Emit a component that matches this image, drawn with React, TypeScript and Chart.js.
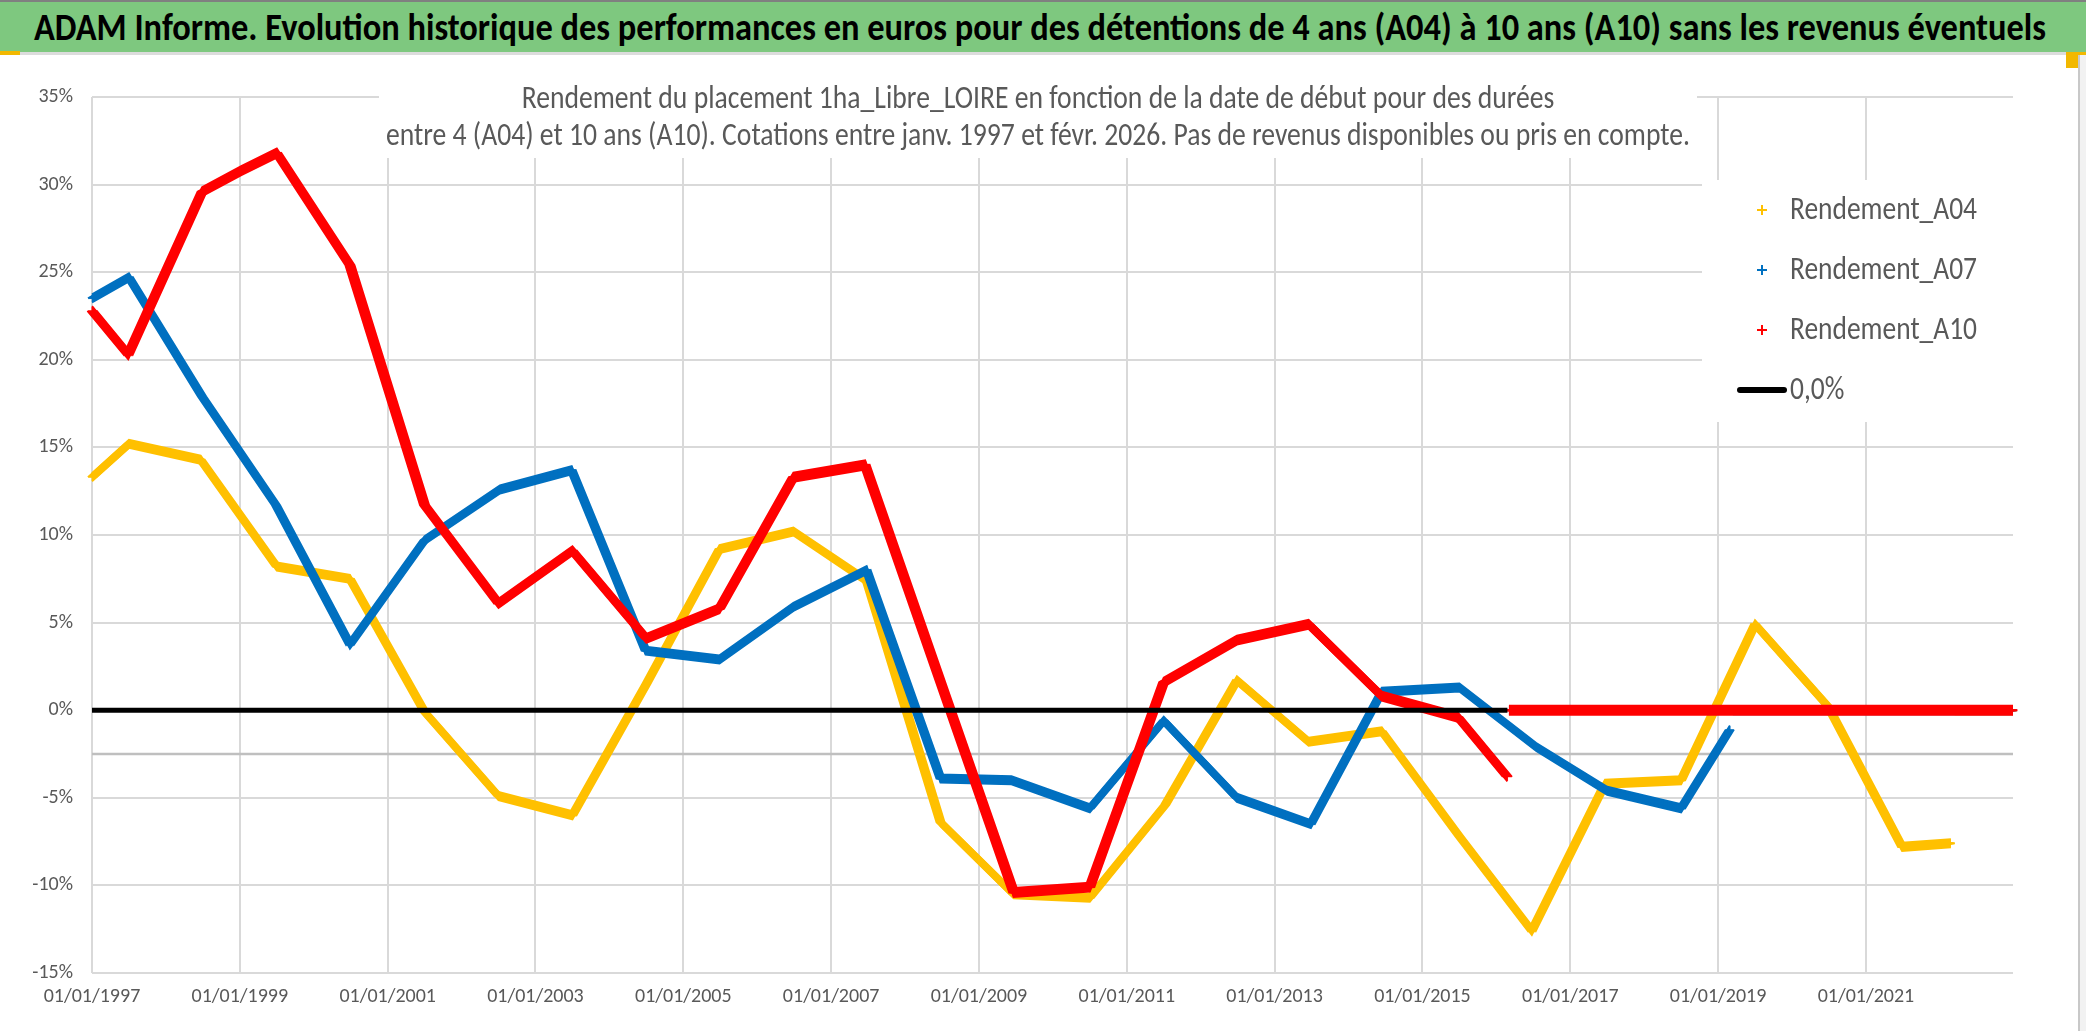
import React, { useEffect, useLayoutEffect, useRef } from 'react';
import { Chart, registerables } from 'chart.js';

Chart.register(...registerables);

const FONT = 'Carlito, "Liberation Sans Narrow", "DejaVu Sans Condensed", "Open Sans", sans-serif';
const TEXT_GRAY = '#595959';

const TITLE =
  'ADAM Informe. Evolution historique des performances en euros pour des détentions de 4 ans (A04) à 10 ans (A10) sans les revenus éventuels';
const SUBTITLE_LINES = [
  'Rendement du placement 1ha_Libre_LOIRE en fonction de la date de début pour des durées',
  'entre 4 (A04) et 10 ans (A10). Cotations entre janv. 1997 et févr. 2026. Pas de revenus disponibles ou pris en compte.',
];

const SERIES_LABELS = ['Rendement_A04', 'Rendement_A07', 'Rendement_A10', '0,0%'];
const SERIES_COLORS = ['#FFC000', '#0070C0', '#FF0000', '#000000'];

// dates as decimal years, values in %
const A04_DATES = [1997.0, 1997.5, 1998.47, 1999.5, 2000.49, 2001.5, 2002.5, 2003.5, 2004.5, 2005.49, 2006.49, 2007.48, 2008.48, 2009.47, 2010.5, 2011.52, 2012.49, 2013.46, 2014.45, 2015.5, 2016.48, 2017.47, 2018.5, 2019.5, 2020.49, 2021.49, 2022.15, 2022.17, 2022.2, 2022.99];
const A04_VALUES = [13.3, 15.2, 14.3, 8.2, 7.5, -0.1, -4.9, -6.0, 1.5, 9.2, 10.2, 7.4, -6.4, -10.5, -10.7, -5.4, 1.7, -1.8, -1.2, -7.2, -12.6, -4.2, -4.0, 4.9, 0.2, -7.8, -7.6, null, 0, 0];

const A07_DATES = [1997.0, 1997.5, 1998.49, 1999.49, 2000.49, 2001.5, 2002.52, 2003.49, 2004.49, 2005.49, 2006.49, 2007.48, 2008.48, 2009.44, 2010.5, 2011.5, 2012.49, 2013.49, 2014.45, 2015.5, 2016.54, 2017.5, 2018.5, 2019.16, 2019.18, 2019.2, 2022.99];
const A07_VALUES = [23.5, 24.7, 17.9, 11.7, 3.75, 9.7, 12.6, 13.7, 3.4, 2.9, 5.9, 8.0, -3.9, -4.0, -5.6, -0.6, -5.0, -6.5, 1.05, 1.3, -2.1, -4.6, -5.6, -1.1, null, 0, 0];

const A10_DATES = [1997.0, 1997.49, 1998.49, 1999.02, 1999.5, 2000.49, 2001.5, 2002.5, 2003.5, 2004.5, 2005.49, 2006.49, 2007.46, 2009.47, 2010.5, 2011.5, 2012.49, 2013.46, 2014.45, 2015.48, 2016.15, 2016.16, 2016.17, 2022.99];
const A10_VALUES = [22.8, 20.3, 29.6, 30.8, 31.8, 25.4, 11.7, 6.1, 9.1, 4.1, 5.8, 13.3, 14.0, -10.4, -10.1, 1.6, 4.0, 4.9, 0.8, -0.4, -3.8, null, 0, 0];

const ZERO_DATES = [1997.0, 2016.15];
const ZERO_VALUES = [0, 0];

const X_TICK_YEARS = [1997, 1999, 2001, 2003, 2005, 2007, 2009, 2011, 2013, 2015, 2017, 2019, 2021];
const X_MIN = 1997;
const X_MAX = 2022.99;
const Y_MIN = -15;
const Y_MAX = 35;
const Y_STEP = 5;
const AXIS_CROSS_VALUE = -2.5;

const toPoints = (dates: number[], values: (number | null)[]) =>
  dates.map((x, i) => ({ x, y: values[i] }));

const TEXT_STRETCH = 1.18;

// font size from target width (natural proportions), then enlarged vertically
const fitSize = (ctx: CanvasRenderingContext2D, text: string, target: number, weight = '') => {
  const base = 30;
  ctx.font = `${weight} ${base}px ${FONT}`;
  const w = ctx.measureText(text).width;
  return (base * target) / w;
};

const drawStretched = (
  ctx: CanvasRenderingContext2D,
  text: string,
  x: number,
  y: number,
  targetWidth: number,
  size: number,
  align: CanvasTextAlign,
) => {
  ctx.font = `${size}px ${FONT}`;
  const w = ctx.measureText(text).width;
  const sx = targetWidth / w;
  ctx.save();
  ctx.translate(x, y);
  ctx.scale(sx, 1);
  ctx.textAlign = align;
  ctx.textBaseline = 'middle';
  ctx.fillText(text, 0, 0);
  ctx.restore();
};

const plusBandPlugin = {
  id: 'plusBand',
  beforeDatasetDraw(chart: any, args: any) {
    const ds = chart.data.datasets[args.index];
    const arm = ds.plusArm || 0;
    if (!arm) return;
    const line = args.meta.dataset;
    const ctx = chart.ctx;
    for (let d = -arm; d <= arm + 0.001; d += 1) {
      if (Math.abs(d) < 0.01) continue;
      ctx.save();
      ctx.translate(d, 0);
      line.draw(ctx, chart.chartArea);
      ctx.restore();
      ctx.save();
      ctx.translate(0, d);
      line.draw(ctx, chart.chartArea);
      ctx.restore();
    }
  },
};

const axisCrossPlugin = {
  id: 'axisCross',
  beforeDatasetsDraw(chart: any) {
    const { ctx, chartArea, scales } = chart;
    const y = scales.y.getPixelForValue(AXIS_CROSS_VALUE);
    ctx.save();
    ctx.strokeStyle = '#bfbfbf';
    ctx.lineWidth = 2.5;
    ctx.beginPath();
    ctx.moveTo(chartArea.left, y);
    ctx.lineTo(chartArea.right, y);
    ctx.stroke();
    ctx.restore();
  },
};

const overlayPlugin = {
  id: 'overlay',
  afterDraw(chart: any) {
    const ctx: CanvasRenderingContext2D = chart.ctx;
    ctx.save();
    // chart title box
    ctx.fillStyle = '#ffffff';
    ctx.fillRect(379, 0, 1318, 103);
    const subSize = fitSize(ctx, SUBTITLE_LINES[1], 1304) * TEXT_STRETCH;
    ctx.font = `${subSize}px ${FONT}`;
    const ratio = ctx.measureText(SUBTITLE_LINES[0]).width / ctx.measureText(SUBTITLE_LINES[1]).width;
    ctx.fillStyle = TEXT_GRAY;
    drawStretched(ctx, SUBTITLE_LINES[0], 1038, 45, 1304 * ratio, subSize, 'center');
    drawStretched(ctx, SUBTITLE_LINES[1], 1038, 82, 1304, subSize, 'center');

    // legend box
    ctx.fillStyle = '#ffffff';
    ctx.fillRect(1702, 125, chart.chartArea.right - 1702, 242);
    const legSize = fitSize(ctx, SERIES_LABELS[0], 187) * TEXT_STRETCH;
    ctx.font = `${legSize}px ${FONT}`;
    const legScale = 187 / ctx.measureText(SERIES_LABELS[0]).width;
    const rows = [155, 215, 275, 335];
    chart.data.datasets.forEach((ds: any, i: number) => {
      const y = rows[i];
      if (ds.legendLine) {
        ctx.strokeStyle = ds.borderColor;
        ctx.lineWidth = 6;
        ctx.lineCap = 'round';
        ctx.beginPath();
        ctx.moveTo(1740, y);
        ctx.lineTo(1784, y);
        ctx.stroke();
      } else {
        ctx.strokeStyle = ds.borderColor;
        ctx.lineWidth = 2;
        ctx.lineCap = 'butt';
        ctx.beginPath();
        ctx.moveTo(1757, y);
        ctx.lineTo(1767, y);
        ctx.moveTo(1762, y - 5);
        ctx.lineTo(1762, y + 5);
        ctx.stroke();
      }
      ctx.fillStyle = TEXT_GRAY;
      ctx.font = `${legSize}px ${FONT}`;
      const w = ctx.measureText(ds.label).width * legScale;
      drawStretched(ctx, ds.label, 1790, y + 1, w, legSize, 'left');
    });
    ctx.restore();
  },
};

export default function App() {
  const canvasRef = useRef<HTMLCanvasElement | null>(null);
  const titleRef = useRef<HTMLSpanElement | null>(null);

  useLayoutEffect(() => {
    document.body.style.margin = '0';
    const span = titleRef.current;
    if (span) {
      span.style.fontSize = '30px';
      const w0 = span.offsetWidth;
      const size = ((30 * 2012) / w0) * 1.14;
      span.style.fontSize = `${size}px`;
      const w1 = span.offsetWidth;
      span.style.transform = `translateY(-50%) scaleX(${2012 / w1})`;
    }
  }, []);

  useEffect(() => {
    if (!canvasRef.current) return;
    const tickFont = { family: FONT, size: 20 };
    const chart = new Chart(canvasRef.current, {
      type: 'line',
      data: {
        datasets: [
          {
            label: SERIES_LABELS[0],
            data: toPoints(A04_DATES, A04_VALUES),
            borderColor: SERIES_COLORS[0],
            backgroundColor: SERIES_COLORS[0],
            borderWidth: 2,
            pointRadius: 0,
            tension: 0,
            order: 3,
            plusArm: 4,
          } as any,
          {
            label: SERIES_LABELS[1],
            data: toPoints(A07_DATES, A07_VALUES),
            borderColor: SERIES_COLORS[1],
            backgroundColor: SERIES_COLORS[1],
            borderWidth: 2,
            pointRadius: 0,
            tension: 0,
            order: 2,
            plusArm: 4,
          } as any,
          {
            label: SERIES_LABELS[2],
            data: toPoints(A10_DATES, A10_VALUES),
            borderColor: SERIES_COLORS[2],
            backgroundColor: SERIES_COLORS[2],
            borderWidth: 2,
            pointRadius: 0,
            tension: 0,
            order: 1,
            plusArm: 4.5,
          } as any,
          {
            label: SERIES_LABELS[3],
            data: toPoints(ZERO_DATES, ZERO_VALUES),
            borderColor: SERIES_COLORS[3],
            backgroundColor: SERIES_COLORS[3],
            borderWidth: 5,
            pointRadius: 0,
            tension: 0,
            order: 0,
            legendLine: true,
          } as any,
        ],
      },
      options: {
        animation: false,
        responsive: false,
        devicePixelRatio: 1,
        layout: { padding: { top: 42, right: 65, left: 0, bottom: 0 } },
        plugins: {
          legend: { display: false },
          title: { display: false },
          tooltip: { enabled: false },
        },
        scales: {
          x: {
            type: 'linear',
            min: X_MIN,
            max: X_MAX,
            grid: { color: '#d9d9d9', lineWidth: 2, drawTicks: false },
            border: { display: false },
            afterBuildTicks: (scale: any) => {
              scale.ticks = X_TICK_YEARS.map((v) => ({ value: v }));
            },
            afterFit: (scale: any) => {
              scale.height = 58;
            },
            ticks: {
              autoSkip: false,
              maxRotation: 0,
              padding: 12,
              color: TEXT_GRAY,
              font: tickFont,
              callback: (v: any) => `01/01/${Math.round(Number(v))}`,
            },
          },
          y: {
            min: Y_MIN,
            max: Y_MAX,
            grid: { color: '#d9d9d9', lineWidth: 2, drawTicks: false },
            border: { display: false },
            afterFit: (scale: any) => {
              scale.width = 92;
            },
            ticks: {
              stepSize: Y_STEP,
              padding: 19,
              color: TEXT_GRAY,
              font: tickFont,
              callback: (v: any) => `${v}%`,
            },
          },
        },
      } as any,
      plugins: [axisCrossPlugin, plusBandPlugin, overlayPlugin],
    });
    return () => chart.destroy();
  }, []);

  return (
    <div style={{ position: 'relative', width: 2086, height: 1031, background: '#ffffff', overflow: 'hidden' }}>
      <div
        style={{
          position: 'absolute',
          left: 0,
          top: 0,
          width: 2086,
          height: 52,
          background: '#7ec87f',
          borderTop: '2px solid #808080',
          boxSizing: 'border-box',
        }}
      >
        <span
          ref={titleRef}
          style={{
            position: 'absolute',
            left: 34,
            top: 26,
            transform: 'translateY(-50%)',
            transformOrigin: 'left center',
            whiteSpace: 'nowrap',
            fontFamily: FONT,
            fontWeight: 'bold',
            fontSize: 30,
            lineHeight: 1,
            color: '#000000',
          }}
        >
          {TITLE}
        </span>
      </div>
      <div style={{ position: 'absolute', left: 0, top: 52, width: 2086, height: 3, background: '#dcdcdc' }} />
      <div style={{ position: 'absolute', left: 0, top: 51, width: 20, height: 4, background: '#f2b800' }} />
      <div style={{ position: 'absolute', left: 2066, top: 52, width: 20, height: 16, background: '#f2b800' }} />
      <div style={{ position: 'absolute', left: 2078, top: 55, width: 2, height: 976, background: '#c8c8c8' }} />
      <div style={{ position: 'absolute', left: 2080, top: 55, width: 6, height: 976, background: '#f2f2f2' }} />
      <div style={{ position: 'absolute', left: 0, top: 55 }}>
        <canvas ref={canvasRef} width={2078} height={976} style={{ display: 'block', width: 2078, height: 976 }} />
      </div>
    </div>
  );
}
